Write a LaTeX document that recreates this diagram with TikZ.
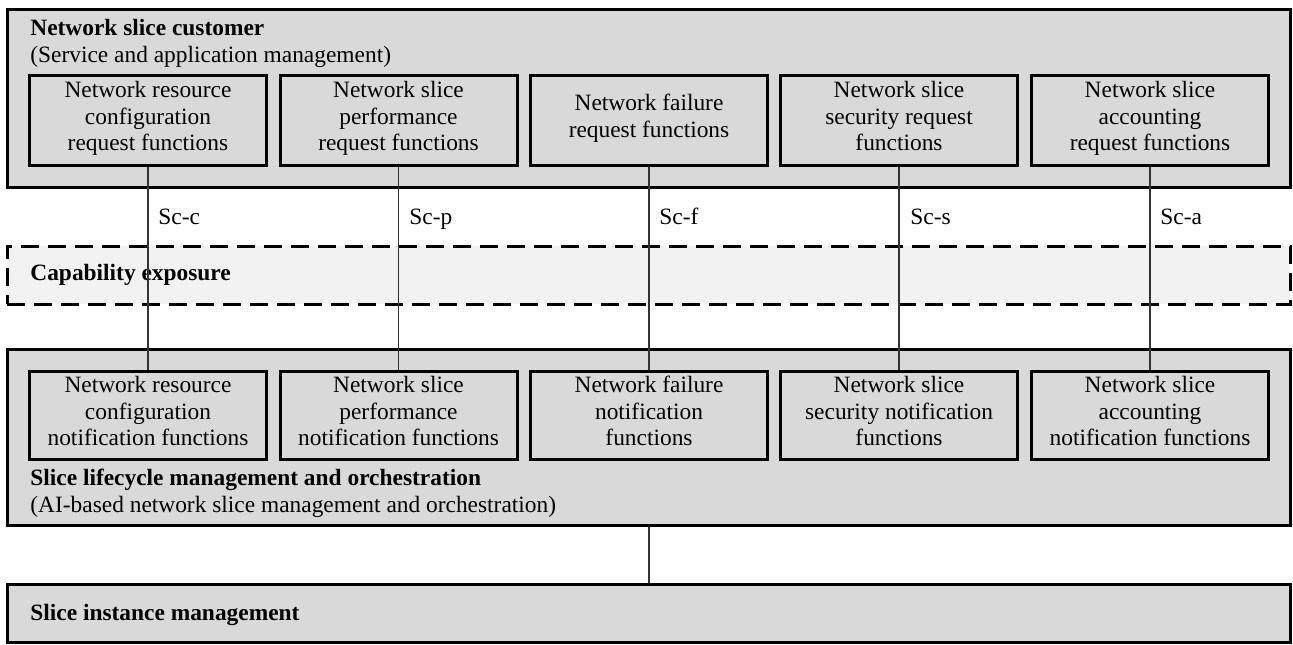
\documentclass[tikz,border=0pt]{standalone}
\usepackage{fontspec}
\setmainfont{Liberation Serif}
\definecolor{panelgrey}{HTML}{D9D9D9}
\definecolor{expgrey}{HTML}{F2F2F2}
\definecolor{connc}{HTML}{333333}
\begin{document}
\begin{tikzpicture}[x=0.5pt,y=-0.5pt,
  txt/.style={font=\fontsize{11.7pt}{13.35pt}\selectfont, inner sep=0pt},
  panel/.style={draw=black, line width=1.5pt, fill=panelgrey, minimum width=641.5pt, inner sep=0pt},
  expo/.style={draw=black, line width=1.5pt, fill=expgrey, dash pattern=on 9pt off 4.5pt, minimum width=641.5pt, minimum height=29pt, inner sep=0pt},
  fnbox/.style={draw=black, line width=1.5pt, fill=panelgrey, minimum width=118.5pt, align=center, txt,
                execute at begin node=\strut, execute at end node=\strut},
  reqbox/.style={fnbox, minimum height=45pt},
  notbox/.style={fnbox, minimum height=44pt},
  conn/.style={draw=connc, line width=0.55pt},
  lbl/.style={txt, anchor=base west},
  ttl/.style={txt, anchor=base west, font=\fontsize{11.7pt}{13.35pt}\selectfont\bfseries}
]
\useasboundingbox (0,0) rectangle (1293,644);

% panels
\node[panel, minimum height=89pt] (cust) at (648.5,98) {};
\node[panel, minimum height=88pt] (slm) at (648.5,437) {};
\node[panel, minimum height=29pt] (inst) at (648.5,613) {};
\node[expo] (cap) at (648.5,275) {};

% panel titles
\node[ttl] (custT) at (30,35) {Network slice customer};
\node[lbl] (custS) at (30,62) {(Service and application management)};
\node[ttl] (capT) at (30,280) {Capability exposure};
\node[ttl] (slmT) at (30,485) {Slice lifecycle management and orchestration};
\node[lbl] (slmS) at (30,512) {(AI-based network slice management and orchestration)};
\node[ttl] (instT) at (30,620) {Slice instance management};

% request function boxes
\node[reqbox] (r1) at (148,120) {Network resource\\configuration\\request functions};
\node[reqbox] (r2) at (398.5,120) {Network slice\\performance\\request functions};
\node[reqbox] (r3) at (649,120) {Network failure\\request functions};
\node[reqbox] (r4) at (899,120) {Network slice\\security request\\functions};
\node[reqbox] (r5) at (1150,120) {Network slice\\accounting\\request functions};

% notification function boxes
\node[notbox] (n1) at (148,415) {Network resource\\configuration\\notification functions};
\node[notbox] (n2) at (398.5,415) {Network slice\\performance\\notification functions};
\node[notbox] (n3) at (649,415) {Network failure\\notification\\functions};
\node[notbox] (n4) at (899,415) {Network slice\\security notification\\functions};
\node[notbox] (n5) at (1150,415) {Network slice\\accounting\\notification functions};

% connectors
\foreach \i in {1,...,5} {
  \draw[conn] (r\i.south) -- (n\i.north);
}
\draw[conn] (slm.south -| r3.south) -- (inst.north -| r3.south);

% reference point labels
\node[lbl] (lc) at (158,224) {Sc-c};
\node[lbl] (lp) at (409,224) {Sc-p};
\node[lbl] (lf) at (659,224) {Sc-f};
\node[lbl] (ls) at (910,224) {Sc-s};
\node[lbl] (la) at (1160,224) {Sc-a};
\end{tikzpicture}
\end{document}
